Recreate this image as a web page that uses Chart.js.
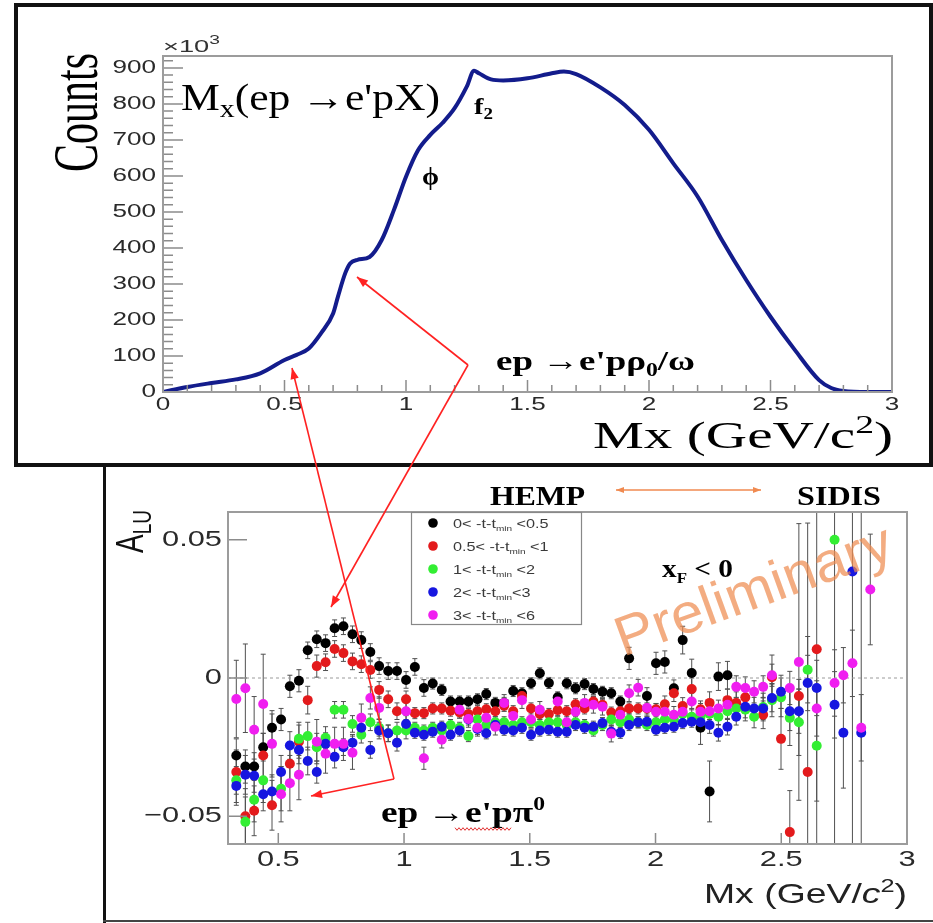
<!DOCTYPE html>
<html>
<head>
<meta charset="utf-8">
<script src="https://cdn.jsdelivr.net/npm/chart.js@4.4.0/dist/chart.umd.min.js"></script>
<style>
  html, body { margin: 0; padding: 0; background: #fff; }
  #page { position: relative; width: 933px; height: 923px; overflow: hidden; background: #fff; }
  #page canvas { position: absolute; left: 0; }
  #topChart { top: 0; }
  #bottomChart { top: 466px; }
  #overlay { top: 0; pointer-events: none; }
</style>
</head>
<body>
<div id="page">
  <canvas id="topChart" width="933" height="466"></canvas>
  <canvas id="bottomChart" width="933" height="457"></canvas>
  <canvas id="overlay" width="933" height="923"></canvas>
</div>
<script>
'use strict';

// ---- top panel: missing mass spectrum (counts in units of 10^3) ----
const topMx = [0, 0.1, 0.2, 0.3, 0.4, 0.5, 0.55, 0.6, 0.65, 0.7, 0.72, 0.75, 0.77, 0.8, 0.85,
  0.9, 0.95, 1.0, 1.05, 1.1, 1.15, 1.2, 1.25, 1.28, 1.3, 1.35, 1.4, 1.5, 1.6, 1.65, 1.7,
  1.8, 1.9, 2.0, 2.1, 2.2, 2.3, 2.4, 2.5, 2.6, 2.7, 2.75, 2.8, 2.9, 3.0];
const topCounts = [0, 14, 25, 35, 52, 89, 103, 121, 163, 218, 265, 330, 357, 367, 375,
  422, 505, 598, 672, 714, 747, 788, 848, 892, 885, 868, 865, 871, 885, 890, 883,
  846, 797, 728, 635, 543, 422, 311, 209, 117, 33, 11, 3, 0, 0];
const topXTicks = [0, 0.5, 1, 1.5, 2, 2.5, 3];
const topYTicks = [0, 100, 200, 300, 400, 500, 600, 700, 800, 900];

// ---- bottom panel: A_LU vs Mx in -t-tmin bins ----
const binMx = [0.333, 0.369, 0.404, 0.440, 0.475, 0.511, 0.546, 0.582, 0.617, 0.653,
  0.688, 0.724, 0.759, 0.795, 0.830, 0.866, 0.901, 0.937, 0.972, 1.008,
  1.043, 1.079, 1.114, 1.150, 1.185, 1.221, 1.256, 1.292, 1.327, 1.363,
  1.398, 1.434, 1.469, 1.505, 1.540, 1.576, 1.611, 1.647, 1.682, 1.718,
  1.753, 1.789, 1.824, 1.860, 1.895, 1.931, 1.966, 2.002, 2.037, 2.073,
  2.108, 2.144, 2.179, 2.215, 2.250, 2.286, 2.321, 2.357, 2.392, 2.428,
  2.463, 2.499, 2.534, 2.570, 2.605, 2.641, 2.676, 2.712, 2.747, 2.783,
  2.818, 2.854];

const aluBlack = [-0.028, -0.032, -0.032, -0.025, -0.018, -0.015, -0.003, -0.001, 0.010, 0.014,
  0.0126, 0.018, 0.0187, 0.0158, 0.0137, 0.0094, 0.0043, 0.0025, 0.0025, -0.0007,
  0.004, -0.0036, -0.002, -0.0043, -0.0085, -0.0085, -0.0085, -0.0077, -0.0058, -0.009,
  -0.009, -0.0047, -0.0055, -0.0019, 0.0017, -0.0018, -0.007, -0.0019, -0.0037, -0.0022,
  -0.004, -0.005, -0.0055, -0.0085, 0.0071, null, -0.0065, 0.0053, 0.0058, -0.0037,
  0.0137, 0.0018, -0.018, -0.041, 0.0005, 0.001, null, null, null, null,
  null, null, null, null, null, null, null, null, null, null, null, null];
const errBlack = [0.006, 0.006, 0.005, 0.005, 0.005, 0.004, 0.004, 0.004, 0.003, 0.003,
  0.003, 0.003, 0.003, 0.003, 0.003, 0.003, 0.003, 0.003, 0.003, 0.003,
  0.003, 0.003, 0.002, 0.002, 0.002, 0.002, 0.002, 0.002, 0.002, 0.002,
  0.002, 0.002, 0.002, 0.002, 0.002, 0.002, 0.002, 0.002, 0.002, 0.002,
  0.002, 0.002, 0.002, 0.002, 0.004, 0, 0.003, 0.004, 0.004, 0.003,
  0.005, 0.005, 0.006, 0.011, 0.005, 0.005, 0, 0, 0, 0,
  0, 0, 0, 0, 0, 0, 0, 0, 0, 0, 0, 0];

const aluRed = [-0.034, -0.050, -0.048, -0.028, -0.046, null, -0.031, -0.023, -0.008, 0.0043,
  0.0057, 0.0105, 0.009, 0.006, 0.005, 0.0029, -0.0043, -0.0077, -0.012, -0.0077,
  -0.0127, -0.0127, -0.011, -0.011, -0.0118, -0.0125, -0.013, -0.012, -0.0113, -0.012,
  -0.010, -0.012, -0.0065, -0.011, -0.013, -0.013, -0.0116, -0.012, -0.0095, -0.011,
  -0.0085, -0.0097, -0.0125, -0.012, -0.011, -0.011, -0.011, -0.0113, -0.0095, -0.0055,
  -0.0101, -0.004, -0.0113, -0.009, null, -0.008, -0.009, -0.007, null, -0.0133,
  0.0003, -0.022, -0.0557, -0.0065, -0.034, 0.0104, null, null, null, null, null, null];
const errRed = [0.008, 0.010, 0.009, 0.008, 0.009, 0, 0.008, 0.006, 0.005, 0.004,
  0.003, 0.003, 0.003, 0.003, 0.003, 0.003, 0.003, 0.003, 0.003, 0.003,
  0.002, 0.002, 0.002, 0.002, 0.002, 0.002, 0.002, 0.002, 0.002, 0.002,
  0.002, 0.002, 0.002, 0.002, 0.002, 0.002, 0.002, 0.002, 0.002, 0.002,
  0.002, 0.002, 0.002, 0.002, 0.002, 0.002, 0.002, 0.002, 0.003, 0.003,
  0.003, 0.004, 0.003, 0.004, 0, 0.004, 0.004, 0.004, 0, 0.005,
  0.008, 0.011, 0.015, 0.006, 0.09, 0.08, 0, 0, 0, 0, 0, 0];

const aluGreen = [-0.037, -0.052, -0.044, -0.037, null, -0.040, null, -0.022, -0.021, -0.025,
  -0.0216, -0.0115, -0.0115, -0.0166, -0.0205, -0.016, -0.018, -0.020, -0.019, -0.019,
  -0.018, -0.019, -0.018, -0.019, -0.017, -0.018, -0.021, -0.015, -0.017, -0.016,
  -0.016, -0.017, -0.016, -0.016, -0.017, -0.016, -0.016, -0.017, -0.016, -0.017,
  -0.019, -0.017, -0.015, -0.016, -0.015, -0.016, -0.017, -0.016, -0.015, -0.015,
  -0.013, -0.014, -0.014, -0.013, -0.014, -0.012, -0.011, -0.0115, -0.014, -0.0105,
  -0.008, -0.007, -0.0144, -0.016, 0.003, -0.0245, null, 0.050, null, null, null, null];
const errGreen = [0.008, 0.009, 0.008, 0.008, 0, 0.008, 0, 0.006, 0.005, 0.005,
  0.004, 0.003, 0.003, 0.003, 0.003, 0.003, 0.003, 0.003, 0.003, 0.003,
  0.002, 0.002, 0.002, 0.002, 0.002, 0.002, 0.002, 0.002, 0.002, 0.002,
  0.002, 0.002, 0.002, 0.002, 0.002, 0.002, 0.002, 0.002, 0.002, 0.002,
  0.002, 0.002, 0.002, 0.002, 0.002, 0.002, 0.002, 0.002, 0.002, 0.002,
  0.003, 0.003, 0.003, 0.003, 0.003, 0.003, 0.004, 0.004, 0.004, 0.005,
  0.006, 0.007, 0.010, 0.012, 0.012, 0.020, 0, 0.12, 0, 0, 0, 0];

const aluBlue = [-0.039, -0.035, -0.0353, -0.042, -0.041, -0.034, -0.0244, -0.026, -0.030, -0.034,
  -0.0238, -0.0285, -0.025, -0.0234, -0.018, -0.026, -0.019, -0.020, -0.0234, -0.0166,
  -0.0198, -0.0205, -0.0194, -0.0176, -0.0205, -0.019, -0.015, -0.0184, -0.020, -0.017,
  -0.0187, -0.019, -0.018, -0.0205, -0.019, -0.0187, -0.0194, -0.0194, -0.017, -0.018,
  -0.0176, -0.0163, -0.0194, -0.0198, -0.017, -0.016, -0.0158, -0.0187, -0.018, -0.0176,
  -0.0163, -0.0158, -0.016, -0.017, -0.0198, -0.0176, -0.014, -0.0104, -0.011, -0.011,
  -0.0072, -0.005, -0.012, -0.012, -0.0018, -0.0036, null, -0.0097, -0.0198, 0.0385,
  -0.0198, null];
const errBlue = [0.007, 0.007, 0.006, 0.006, 0.006, 0.006, 0.005, 0.005, 0.005, 0.004,
  0.004, 0.004, 0.003, 0.003, 0.003, 0.003, 0.003, 0.003, 0.003, 0.003,
  0.002, 0.002, 0.002, 0.002, 0.002, 0.002, 0.002, 0.002, 0.002, 0.002,
  0.002, 0.002, 0.002, 0.002, 0.002, 0.002, 0.002, 0.002, 0.002, 0.002,
  0.002, 0.002, 0.002, 0.002, 0.002, 0.002, 0.002, 0.002, 0.002, 0.002,
  0.002, 0.002, 0.003, 0.003, 0.003, 0.003, 0.003, 0.004, 0.004, 0.004,
  0.005, 0.006, 0.007, 0.008, 0.010, 0.010, 0, 0.012, 0.020, 0.12, 0.12, 0];

const aluMagenta = [-0.0076, -0.0037, -0.0187, -0.0094, -0.0238, -0.042, -0.038, -0.035, null, -0.023,
  -0.0274, -0.0238, -0.0238, -0.027, -0.0144, -0.0072, -0.0108, null, null, -0.012,
  null, -0.029, null, -0.0223, null, -0.0115, -0.0148, -0.018, -0.0144, -0.0176,
  -0.009, -0.0137, -0.008, -0.015, -0.0115, null, -0.0085, -0.016, -0.0122, -0.009,
  -0.0097, -0.0104, -0.0201, -0.0133, -0.0055, -0.0035, -0.0108, -0.0122, -0.0122, -0.0133,
  -0.0122, -0.0085, -0.0122, -0.012, -0.011, -0.0097, -0.0032, -0.0036, -0.005, -0.0032,
  0.001, null, -0.0036, 0.0058, null, -0.011, null, -0.0018, 0.001, 0.0053,
  -0.018, 0.032];
const errMagenta = [0.014, 0.016, 0.012, 0.018, 0.012, 0.010, 0.010, 0.009, 0, 0.008,
  0.007, 0.006, 0.006, 0.006, 0.005, 0.004, 0.004, 0, 0, 0.003,
  0, 0.004, 0, 0.003, 0, 0.003, 0.003, 0.003, 0.003, 0.003,
  0.003, 0.003, 0.003, 0.003, 0.003, 0, 0.003, 0.003, 0.003, 0.003,
  0.003, 0.003, 0.003, 0.003, 0.003, 0.003, 0.003, 0.003, 0.003, 0.003,
  0.003, 0.003, 0.003, 0.003, 0.003, 0.003, 0.004, 0.004, 0.004, 0.004,
  0.004, 0, 0.006, 0.05, 0, 0.010, 0, 0.012, 0.010, 0.012, 0.012, 0.020];

const tLow = ['0', '0.5', '1', '2', '3'];
const tHigh = ['0.5', '1', '2', '3', '6'];
const seriesColors = ['#000000', '#e31a1c', '#33ee33', '#1616e0', '#f01ef0'];
const botXTicks = [0.5, 1, 1.5, 2, 2.5, 3];
const botYTicks = [-0.05, 0, 0.05];

const SANS = '"Liberation Sans", Arial, Helvetica, sans-serif';
const SERIF = '"Liberation Serif", "Times New Roman", Times, serif';

// draws a run of text pieces [text, font, dy]; can stretch, fit a width, rotate
function drawRich(ctx, parts, x, y, o = {}) {
  ctx.save();
  let w = 0;
  for (const p of parts) { ctx.font = p[1]; w += ctx.measureText(p[0]).width; }
  const k = o.width ? o.width / w : (o.sx || 1);
  ctx.translate(x, y);
  if (o.pageSX) ctx.scale(o.pageSX, 1);
  if (o.rotate) ctx.rotate(o.rotate);
  ctx.scale(k, 1);
  let cx = o.align === 'right' ? -w : o.align === 'center' ? -w / 2 : 0;
  ctx.fillStyle = o.color || '#000';
  ctx.textAlign = 'left';
  ctx.textBaseline = o.baseline || 'alphabetic';
  for (const p of parts) {
    ctx.font = p[1];
    ctx.fillText(p[0], cx, p[2] || 0);
    cx += ctx.measureText(p[0]).width;
  }
  ctx.restore();
}

const fmt = (v) => String(+v.toFixed(3)).replace('-', '\u2212');

// ROOT-like frame: ticks inside the frame, stretched tick labels
const rootAxes = {
  id: 'rootAxes',
  beforeDatasetsDraw(chart, args, o) {
    if (!o.zeroLine) return;
    const { ctx, chartArea: a, scales: { y } } = chart;
    const py = y.getPixelForValue(0);
    ctx.save();
    ctx.strokeStyle = '#9a9a9a';
    ctx.lineWidth = 1;
    ctx.setLineDash([3, 3]);
    ctx.beginPath();
    ctx.moveTo(a.left, py);
    ctx.lineTo(a.right, py);
    ctx.stroke();
    ctx.restore();
  },
  afterDatasetsDraw(chart, args, o) {
    const { ctx, chartArea: a, scales: { x, y } } = chart;
    ctx.save();
    ctx.strokeStyle = '#8c8c8c';
    ctx.lineWidth = 1.5;
    ctx.beginPath();
    if (o.xMinorStep) {
      for (let v = x.min; v <= x.max + 1e-9; v += o.xMinorStep) {
        const p = x.getPixelForValue(v);
        ctx.moveTo(p, a.bottom); ctx.lineTo(p, a.bottom - o.xMinorLen);
      }
    }
    x.ticks.forEach((t) => {
      const p = x.getPixelForValue(t.value);
      ctx.moveTo(p, a.bottom); ctx.lineTo(p, a.bottom - o.xMajorLen);
    });
    if (o.yMinorStep) {
      for (let v = y.min; v <= y.max + 1e-9; v += o.yMinorStep) {
        const p = y.getPixelForValue(v);
        ctx.moveTo(a.left, p); ctx.lineTo(a.left + o.yMinorLen, p);
      }
    }
    y.ticks.forEach((t) => {
      const p = y.getPixelForValue(t.value);
      ctx.moveTo(a.left, p); ctx.lineTo(a.left + o.yMajorLen, p);
    });
    ctx.stroke();
    ctx.strokeStyle = '#9c9c9c';
    ctx.lineWidth = 2;
    ctx.strokeRect(a.left, a.top, a.right - a.left, a.bottom - a.top);
    ctx.restore();

    x.ticks.forEach((t) => drawRich(ctx, [[fmt(t.value), o.font]], x.getPixelForValue(t.value),
      a.bottom + o.xLabelDy, { sx: o.sx, align: 'center', baseline: 'middle', color: '#2a2a2a' }));
    y.ticks.forEach((t) => drawRich(ctx, [[fmt(t.value), o.font]], a.left - o.yLabelDx,
      y.getPixelForValue(t.value), { sx: o.sx, align: 'right', baseline: 'middle', color: '#2a2a2a' }));
  },
};

// vertical error bars with small caps, clipped to the frame
const errorBars = {
  id: 'errorBars',
  beforeDatasetsDraw(chart) {
    const { ctx, chartArea: a, scales: { x, y } } = chart;
    ctx.save();
    ctx.beginPath();
    ctx.rect(a.left, a.top, a.right - a.left, a.bottom - a.top);
    ctx.clip();
    ctx.strokeStyle = '#505050';
    ctx.lineWidth = 1;
    chart.data.datasets.forEach((ds) => {
      ds.data.forEach((p) => {
        if (!p.err) return;
        const px = x.getPixelForValue(p.x);
        const y1 = y.getPixelForValue(p.y + p.err);
        const y2 = y.getPixelForValue(p.y - p.err);
        ctx.beginPath();
        ctx.moveTo(px, y1); ctx.lineTo(px, y2);
        ctx.moveTo(px - 2.5, y1); ctx.lineTo(px + 2.5, y1);
        ctx.moveTo(px - 2.5, y2); ctx.lineTo(px + 2.5, y2);
        ctx.stroke();
      });
    });
    ctx.restore();
  },
};

const fixedAxis = (size, horizontal) => (s) => { if (horizontal) s.height = size; else s.width = size; };

new Chart(document.getElementById('topChart'), {
  type: 'line',
  data: {
    datasets: [{
      data: topMx.map((x, i) => ({ x, y: topCounts[i] })),
      borderColor: '#131c8c',
      borderWidth: 4,
      pointRadius: 0,
      cubicInterpolationMode: 'monotone',
      fill: false,
    }],
  },
  options: {
    responsive: false,
    animation: false,
    events: [],
    layout: { padding: { top: 56, right: 41, left: 0, bottom: 0 } },
    plugins: {
      legend: { display: false },
      tooltip: { enabled: false },
      rootAxes: {
        xMinorStep: 0.1, xMinorLen: 7, xMajorLen: 12,
        yMinorStep: 20, yMinorLen: 10, yMajorLen: 20,
        font: `18px ${SANS}`, sx: 1.45, xLabelDy: 13, yLabelDx: 7,
      },
    },
    scales: {
      x: {
        type: 'linear', min: 0, max: 3,
        afterBuildTicks: (s) => { s.ticks = topXTicks.map((v) => ({ value: v })); },
        afterFit: fixedAxis(74, true),
        grid: { display: false }, border: { display: false }, ticks: { display: false },
      },
      y: {
        type: 'linear', min: 0, max: 933,
        afterBuildTicks: (s) => { s.ticks = topYTicks.map((v) => ({ value: v })); },
        afterFit: fixedAxis(163, false),
        grid: { display: false }, border: { display: false }, ticks: { display: false },
      },
    },
  },
  plugins: [rootAxes],
});

const series = [
  [aluBlack, errBlack], [aluRed, errRed], [aluGreen, errGreen], [aluBlue, errBlue], [aluMagenta, errMagenta],
];

new Chart(document.getElementById('bottomChart'), {
  type: 'scatter',
  data: {
    datasets: series.map(([vals, errs], k) => ({
      label: `${tLow[k]}< -t-tmin <${tHigh[k]}`,
      data: binMx.map((x, i) => ({ x, y: vals[i], err: errs[i] })).filter((p) => p.y !== null),
      backgroundColor: seriesColors[k],
      pointRadius: 5,
      pointBorderWidth: 0,
      order: 4 - k,
    })),
  },
  options: {
    responsive: false,
    animation: false,
    events: [],
    layout: { padding: { top: 46, right: 26, left: 0, bottom: 0 } },
    plugins: {
      legend: { display: false },
      tooltip: { enabled: false },
      rootAxes: {
        xMajorLen: 11, yMajorLen: 19, zeroLine: true,
        font: `22px ${SANS}`, sx: 1.4, xLabelDy: 16, yLabelDx: 6,
      },
    },
    scales: {
      x: {
        type: 'linear', min: 0.3, max: 3,
        afterBuildTicks: (s) => { s.ticks = botXTicks.map((v) => ({ value: v })); },
        afterFit: fixedAxis(79, true),
        grid: { display: false }, border: { display: false }, ticks: { display: false },
      },
      y: {
        type: 'linear', min: -0.06, max: 0.06,
        afterBuildTicks: (s) => { s.ticks = botYTicks.map((v) => ({ value: v })); },
        afterFit: fixedAxis(228, false),
        grid: { display: false }, border: { display: false }, ticks: { display: false },
      },
    },
  },
  plugins: [errorBars, rootAxes],
});

// ---- overlay: panel frames, titles, annotations, legend, arrows ----
const ov = document.getElementById('overlay').getContext('2d');

function arrow(ctx, x1, y1, x2, y2, head, both) {
  ctx.beginPath(); ctx.moveTo(x1, y1); ctx.lineTo(x2, y2); ctx.stroke();
  const tip = (tx, ty, ang) => {
    ctx.beginPath();
    ctx.moveTo(tx, ty);
    ctx.lineTo(tx - head * Math.cos(ang) + head * 0.38 * Math.sin(ang), ty - head * Math.sin(ang) - head * 0.38 * Math.cos(ang));
    ctx.lineTo(tx - head * Math.cos(ang) - head * 0.38 * Math.sin(ang), ty - head * Math.sin(ang) + head * 0.38 * Math.cos(ang));
    ctx.closePath();
    ctx.fill();
  };
  const a = Math.atan2(y2 - y1, x2 - x1);
  tip(x2, y2, a);
  if (both) tip(x1, y1, a + Math.PI);
}

// frames
ov.strokeStyle = '#111';
ov.lineWidth = 4;
ov.strokeRect(16, 5, 915, 460);
ov.lineWidth = 3;
ov.beginPath(); ov.moveTo(104.5, 467); ov.lineTo(104.5, 923); ov.stroke();
ov.strokeStyle = '#444';
ov.lineWidth = 2;
ov.beginPath(); ov.moveTo(103, 921); ov.lineTo(933, 921); ov.stroke();

// top panel titles
drawRich(ov, [['Counts', `44px ${SERIF}`]], 97, 172, { width: 119, rotate: -Math.PI / 2, pageSX: 1.45 });
drawRich(ov, [['\u00d710', `17px ${SANS}`], ['3', `12px ${SANS}`, -8]], 163, 52, { width: 57, color: '#333' });
drawRich(ov, [['Mx (GeV/c', `38px ${SERIF}`], ['2', `25px ${SERIF}`, -15], [')', `38px ${SERIF}`]],
  893, 448, { align: 'right', width: 300 });
drawRich(ov, [['M', `38px ${SERIF}`], ['x', `26px ${SERIF}`, 7], ['(ep \u2192e\'pX)', `38px ${SERIF}`]],
  181, 110, { width: 259 });
drawRich(ov, [['\u03d5', `bold 26px ${SERIF}`]], 422, 185, { width: 17 });
drawRich(ov, [['f', `bold 24px ${SERIF}`], ['2', `bold 16px ${SERIF}`, 5]], 474, 114, { width: 19 });
drawRich(ov, [['ep \u2192e\'p\u03c1', `bold 28px ${SERIF}`], ['0', `bold 18px ${SERIF}`, 6], ['/\u03c9', `bold 28px ${SERIF}`]],
  496, 370, { width: 199 });

// bottom panel titles
drawRich(ov, [['A', `28px ${SANS}`], ['LU', `19px ${SANS}`, 6]], 143, 553, { rotate: -Math.PI / 2, pageSX: 1.4, color: '#111' });
drawRich(ov, [['Mx (GeV/', `28px ${SANS}`], ['c', `italic 28px ${SANS}`], ['2', `19px ${SANS}`, -11], [')', `28px ${SANS}`]],
  907, 903, { align: 'right', width: 203, color: '#222' });
drawRich(ov, [['HEMP', `bold 27px ${SERIF}`]], 490, 505, { width: 95 });
drawRich(ov, [['SIDIS', `bold 27px ${SERIF}`]], 797, 505, { width: 84 });
drawRich(ov, [['x', `bold 26px ${SERIF}`], ['F', `bold 15px ${SERIF}`, 6], [' < 0', `bold 26px ${SERIF}`]],
  662, 577, { width: 71 });
drawRich(ov, [['ep \u2192e\'p\u03c0', `bold 30px ${SERIF}`], ['0', `bold 19px ${SERIF}`, -12]],
  381, 822, { width: 164 });

// spell-check squiggle under e'pπ
ov.strokeStyle = '#e03030';
ov.lineWidth = 1;
ov.beginPath();
for (let x = 455, s = 0; x <= 512; x += 2, s++) {
  const yy = 829 + (s % 2 ? 1.3 : -1.3);
  if (x === 455) ov.moveTo(x, yy); else ov.lineTo(x, yy);
}
ov.stroke();

// HEMP <-> SIDIS arrow
ov.strokeStyle = '#f08a50';
ov.fillStyle = '#f08a50';
ov.lineWidth = 1.5;
arrow(ov, 616, 490, 761, 490, 8, true);

// legend
ov.fillStyle = '#fff';
ov.fillRect(411, 512, 171, 113);
ov.strokeStyle = '#888';
ov.lineWidth = 1.2;
ov.strokeRect(411.5, 512.5, 170, 112);
[523, 546, 569, 592, 615].forEach((ry, k) => {
  ov.fillStyle = seriesColors[k];
  ov.beginPath(); ov.arc(433, ry, 4.8, 0, Math.PI * 2); ov.fill();
  drawRich(ov, [[`${tLow[k]}< -t-t`, `13px ${SANS}`], ['min', `8px ${SANS}`, 3], [`${k === 3 ? '' : ' '}<${tHigh[k]}`, `13px ${SANS}`]],
    453, ry + 4.5, { sx: 1.25, color: '#3a3a3a' });
});

// Preliminary watermark
drawRich(ov, [['Preliminary', `56px ${SANS}`]], 623, 657,
  { width: 291, rotate: -20 * Math.PI / 180, color: 'rgba(238,140,80,0.72)' });

// red annotation arrows
ov.strokeStyle = '#ff2222';
ov.fillStyle = '#ff2222';
ov.lineWidth = 1.6;
arrow(ov, 468, 365, 357, 277, 11);
arrow(ov, 468, 365, 331, 607, 11);
arrow(ov, 394, 779, 292, 368, 11);
arrow(ov, 394, 779, 311, 796, 11);
</script>
</body>
</html>
